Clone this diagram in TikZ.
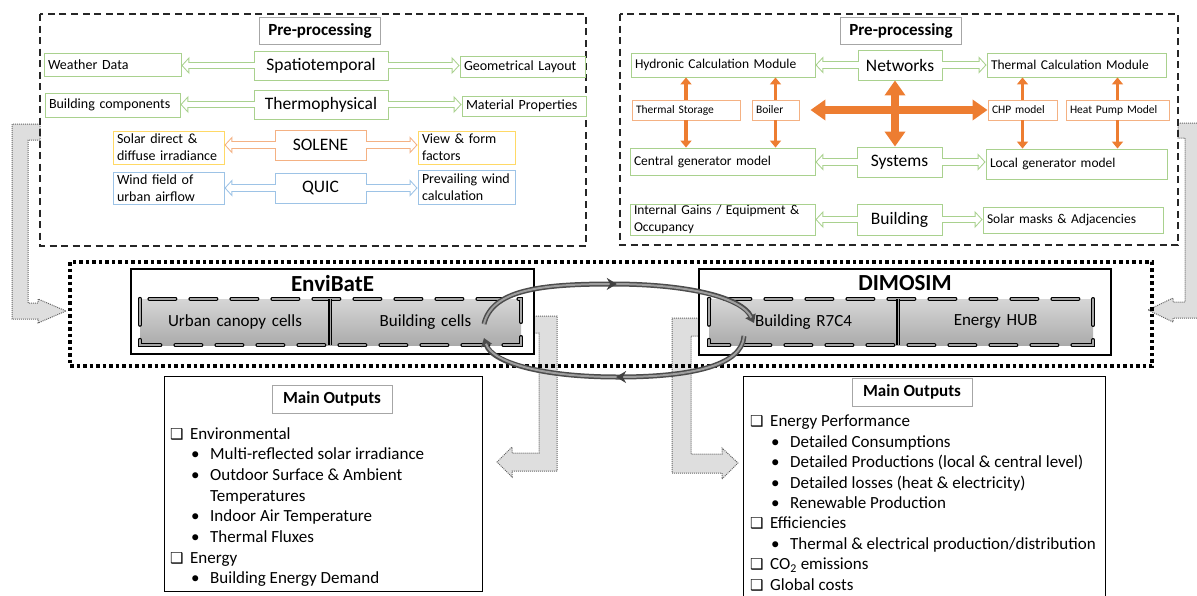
\documentclass[tikz,border=0pt]{standalone}
\usepackage{fontspec}
\setmainfont{Carlito}
\newfontfamily\dvs{DejaVu Sans}
\usetikzlibrary{arrows.meta,decorations.markings}
\definecolor{gbd}{HTML}{A9D18E}
\definecolor{obd}{HTML}{F4B183}
\definecolor{ybd}{HTML}{FFD966}
\definecolor{bbd}{HTML}{9DC3E6}
\definecolor{oar}{HTML}{ED7D31}
\newcommand\fsz[2]{\fontsize{#1pt}{#2pt}\selectfont}
\newcommand\cbx{\makebox[20pt][l]{\dvs\fontsize{15pt}{17pt}\selectfont ❑}}
\newcommand\blt{\hspace*{21pt}\makebox[19pt][l]{•}}
\newcommand\bx[8][]{%
  \pgfmathsetmacro\bxw{#6-#4}%
  \pgfmathsetmacro\bxh{#7-#5}%
  \pgfmathsetmacro\bxt{#6-#4-8}%
  \pgfmathsetmacro\bxx{(#4+#6)/2}%
  \pgfmathsetmacro\bxy{(#5+#7)/2}%
  \node[#2, minimum width=\bxw pt, minimum height=\bxh pt, text width=\bxt pt, #1] (#3) at (\bxx,\bxy) {#8};}
\newcommand\harrow[3]{\draw[hout=#1] #2 -- #3; \draw[hin] #2 -- #3;}
\tikzset{
  tbox/.style={fill=white, inner sep=0pt, line width=0.9pt},
  gbox/.style={tbox, draw=gbd},
  obox/.style={tbox, draw=obd},
  ybox/.style={tbox, draw=ybd},
  bbox/.style={tbox, draw=bbd},
  lft/.style={align=left},
  ctr/.style={align=center},
  txs/.style={font=\fsz{14}{17}},
  txr/.style={font=\fsz{13.5}{17}},
  txt/.style={font=\fsz{11.5}{14}},
  txb/.style={font=\fsz{17.5}{21}},
  hdr/.style={draw=gray!70, line width=0.9pt, fill=white, inner sep=0pt, font=\bfseries\fsz{17}{20}, align=center, minimum width=121pt, minimum height=27pt},
  hout/.style={draw=#1, line width=7.5pt, -{Triangle[length=8pt,width=17pt]}},
  hin/.style={draw=white, line width=5.5pt, shorten <=-1pt, shorten >=1.37pt, -{Triangle[length=5.63pt,width=11.96pt]}},
  oth/.style={draw=oar, line width=3.5pt, -{Triangle[length=7pt,width=11pt]}},
  othk/.style={draw=oar, line width=8pt, {Triangle[length=15pt,width=20pt]}-{Triangle[length=15pt,width=20pt]}},
  pdash/.style={draw=black!85, line width=1.1pt, dash pattern=on 7pt off 4.5pt},
  bigdot/.style={draw=black, line width=3.2pt, dash pattern=on 3.5pt off 3pt},
  larr/.style={draw=black!60, line width=1pt, dash pattern=on 1pt off 1pt, fill=black!13},
  simbox/.style={draw=black, line width=1.6pt, fill=white, inner sep=0pt},
  ttl/.style={font=\bfseries\fsz{23}{27}, inner sep=0pt},
  cellbox/.style={top color=black!16, bottom color=black!33, draw=none, inner sep=0pt, align=center, font=\fsz{17}{20}},
  celldash/.style={draw=black, line width=4pt, line cap=round, dash pattern=on 26pt off 15pt},
  celldashin/.style={draw=black!35, line width=1.6pt, line cap=round, dash pattern=on 26pt off 15pt},
  celldiv/.style={draw=black, line width=3.5pt},
  celldivin/.style={draw=black!35, line width=1.2pt},
  outbox/.style={draw=black, line width=1.2pt, inner sep=0pt, anchor=north west},
  lst/.style={align=left, inner sep=0pt, font=\fsz{17}{20.7}, anchor=north west},
  cyc/.style={draw=black!70, line width=5pt},
  cycin/.style={draw=black!38, line width=2pt},
}
\begin{document}
\begin{tikzpicture}[x=1pt,y=-1pt]
\useasboundingbox (0,0) rectangle (1197,595);
% gray L-shaped arrows
\draw[larr] (40,124) -- (12,124) -- (12,319) -- (38,319) -- (38,323) -- (66,311) -- (38,299) -- (38,303) -- (28,303) -- (28,140) -- (40,140) -- cycle;
\draw[larr] (1178,123) -- (1200,123) -- (1200,318) -- (1173,318) -- (1173,322) -- (1148,310) -- (1173,298) -- (1173,302) -- (1185,302) -- (1185,138) -- (1178,138) -- cycle;
\draw[larr] (534,316) -- (557,316) -- (557,471) -- (512,471) -- (512,477) -- (497,462) -- (512,447) -- (512,453) -- (539,453) -- (539,333) -- (534,333) -- cycle;
\draw[larr] (699,318) -- (672,318) -- (672,473) -- (722,473) -- (722,479) -- (738,463) -- (722,448) -- (722,454) -- (691,454) -- (691,336) -- (699,336) -- cycle;
% pre-processing frames
\draw[pdash] (40,14) rectangle (586,246);
\draw[pdash] (620,14) rectangle (1178,245);
\node[hdr] (pl) at (320,30.5) {Pre-processing};
\node[hdr] (pr) at (901,31) {Pre-processing};
% left pre-processing content
\bx[lft,txs]{gbox}{wd}{44}{53}{181}{76}{Weather Data}
\bx[ctr,txb]{gbox}{sp}{254}{51}{388}{80}{Spatiotemporal}
\bx[lft,txs]{gbox}{gl}{460}{56}{585}{77}{Geometrical Layout}
\bx[lft,txs]{gbox}{bcmp}{45}{93}{180}{117}{Building components}
\bx[ctr,txb]{gbox}{tp}{254}{90}{388}{119}{Thermophysical}
\bx[lft,txs]{gbox}{mp}{462}{96}{586}{116}{Material Properties}
\bx[lft,txs]{ybox}{sd}{113}{131}{224}{164}{Solar direct \&\\diffuse irradiance}
\bx[ctr,txb]{obox}{sol}{275}{130}{366}{160}{SOLENE}
\bx[lft,txs]{ybox}{vf}{418}{131}{515}{164}{View \& form\\factors}
\bx[lft,txs]{bbox}{wf}{113}{172}{224}{204}{Wind field of\\urban airflow}
\bx[ctr,txb]{bbox}{qu}{275}{173}{366}{203}{QUIC}
\bx[lft,txs]{bbox}{pw}{418}{170}{515}{204}{Prevailing wind\\calculation}
\harrow{gbd}{(sp.west)}{(sp.west -| wd.east)}
\harrow{gbd}{(sp.east)}{(sp.east -| gl.west)}
\harrow{gbd}{(tp.west)}{(tp.west -| bcmp.east)}
\harrow{gbd}{(tp.east)}{(tp.east -| mp.west)}
\harrow{obd}{(sol.west)}{(sol.west -| sd.east)}
\harrow{obd}{(sol.east)}{(sol.east -| vf.west)}
\harrow{bbd}{(qu.west)}{(qu.west -| wf.east)}
\harrow{bbd}{(qu.east)}{(qu.east -| pw.west)}
% right pre-processing content
\bx[lft,txr]{gbox}{hy}{631}{53}{815}{77}{Hydronic Calculation Module}
\bx[ctr,txb]{gbox}{nw}{858}{50}{942}{80}{Networks}
\bx[lft,txr]{gbox}{tc}{987}{53}{1166}{77}{Thermal Calculation Module}
\bx[lft,txt]{obox}{ts}{632}{100}{740}{120}{Thermal Storage}
\bx[lft,txt]{obox}{bo}{752}{100}{799}{120}{Boiler}
\bx[lft,txt]{obox}{chp}{988}{100}{1057}{120}{CHP model}
\bx[lft,txt]{obox}{hp}{1066}{100}{1169}{120}{Heat Pump Model}
\bx[lft,txr]{gbox}{cg}{630}{148}{815}{175}{Central generator model}
\bx[ctr,txb]{gbox}{sy}{857}{147}{942}{177}{Systems}
\bx[lft,txr]{gbox}{lg}{986}{149}{1167}{179}{Local generator model}
\bx[lft,txr]{gbox}{ig}{630}{204}{815}{235}{Internal Gains / Equipment \&\\Occupancy}
\bx[ctr,txb]{gbox}{bu}{857}{204}{942}{235}{Building}
\bx[lft,txr]{gbox}{sm}{983}{207}{1163}{233}{Solar masks \& Adjacencies}
\harrow{gbd}{(nw.west)}{(nw.west -| hy.east)}
\harrow{gbd}{(nw.east)}{(nw.east -| tc.west)}
\harrow{gbd}{(sy.west)}{(sy.west -| cg.east)}
\harrow{gbd}{(sy.east)}{(sy.east -| lg.west)}
\harrow{gbd}{(bu.west)}{(bu.west -| ig.east)}
\harrow{gbd}{(bu.east)}{(bu.east -| sm.west)}
\draw[oth] (ts.north) -- (ts.north |- hy.south);
\draw[oth] (ts.south) -- (ts.south |- cg.north);
\draw[oth] (bo.north) -- (bo.north |- hy.south);
\draw[oth] (bo.south) -- (bo.south |- cg.north);
\draw[oth] (chp.north) -- (chp.north |- tc.south);
\draw[oth] (chp.south) -- (chp.south |- lg.north);
\draw[oth] (hp.north) -- (hp.north |- tc.south);
\draw[oth] (hp.south) -- (hp.south |- lg.north);
\draw[othk] ([xshift=-5pt]nw.south) -- ([xshift=-5pt]nw.south |- sy.north);
\draw[othk, shorten <=11pt] (bo.east) -- (bo.east -| chp.west);
% coupling frame
\draw[bigdot] (70,262) rectangle (1152,366);
\node[simbox, minimum width=403pt, minimum height=85pt] (env) at (332.5,311.5) {};
\node[ttl, anchor=north] (envt) at ([yshift=-7pt]env.north) {EnviBatE};
\node[simbox, minimum width=412pt, minimum height=86pt] (dim) at (905,312) {};
\node[ttl, anchor=north] (dimt) at ([yshift=-7pt]dim.north) {DIMOSIM};
\bx{cellbox}{uc}{140}{299}{330}{345}{Urban canopy cells}
\bx{cellbox}{bc}{330}{299}{521}{345}{Building cells}
\bx{cellbox}{br}{709}{299}{898}{345}{Building R7C4}
\bx{cellbox}{eh}{898}{299}{1093}{345}{Energy HUB}
\draw[celldash] (uc.north west) rectangle (bc.south east);
\draw[celldashin] (uc.north west) rectangle (bc.south east);
\draw[celldiv] (uc.north east) -- (uc.south east);
\draw[celldivin] (uc.north east) -- (uc.south east);
\draw[celldash] (br.north west) rectangle (eh.south east);
\draw[celldashin] (br.north west) rectangle (eh.south east);
\draw[celldiv] (br.north east) -- (br.south east);
\draw[celldivin] (br.north east) -- (br.south east);
% outputs
\node[outbox, minimum width=318pt, minimum height=215pt] (lob) at (164,376) {};
\node[hdr, minimum width=120pt, minimum height=28pt] (loh) at (332,399) {Main Outputs};
\node[lst] (lol) at (170,427) {\cbx Environmental\\
\blt Multi-reflected solar irradiance\\
\blt Outdoor Surface \& Ambient\\
\hspace*{40pt}Temperatures\\
\blt Indoor Air Temperature\\
\blt Thermal Fluxes\\
\cbx Energy\\
\blt Building Energy Demand};
\node[outbox, minimum width=362pt, minimum height=240pt] (rob) at (743,376) {};
\node[hdr, minimum width=120pt, minimum height=28pt] (roh) at (912,392) {Main Outputs};
\node[lst, font=\fsz{17}{20.4}] (rol) at (750,415) {\cbx Energy Performance\\
\blt Detailed Consumptions\\
\blt Detailed Productions (local \& central level)\\
\blt Detailed losses (heat \& electricity)\\
\blt Renewable Production\\
\cbx Efficiencies\\
\blt Thermal \& electrical production/distribution\\
\cbx CO\textsubscript{2} emissions\\
\cbx Global costs};
% coupling cycle
\coordinate (a1) at (484,324);
\coordinate (a2) at (754,323);
\coordinate (b1) at (744,336);
\coordinate (b2) at (484,338);
\draw[cyc, -{Triangle[length=8pt,width=11pt]}] (a1) .. controls (492,290) and (540,284) .. (612,284) .. controls (690,284) and (742,298) .. (a2);
\draw[cycin, shorten >=6pt, postaction={decorate}, decoration={markings, mark=at position 0.5 with {\arrow[black!75]{Stealth[length=10pt,width=12pt]}}}] (a1) .. controls (492,290) and (540,284) .. (612,284) .. controls (690,284) and (742,298) .. (a2);
\draw[cyc, -{Triangle[length=8pt,width=11pt]}] (b1) .. controls (742,366) and (690,377) .. (618,377) .. controls (540,377) and (492,362) .. (b2);
\draw[cycin, shorten >=6pt, postaction={decorate}, decoration={markings, mark=at position 0.5 with {\arrow[black!75]{Stealth[length=10pt,width=12pt]}}}] (b1) .. controls (742,366) and (690,377) .. (618,377) .. controls (540,377) and (492,362) .. (b2);
\end{tikzpicture}
\end{document}
